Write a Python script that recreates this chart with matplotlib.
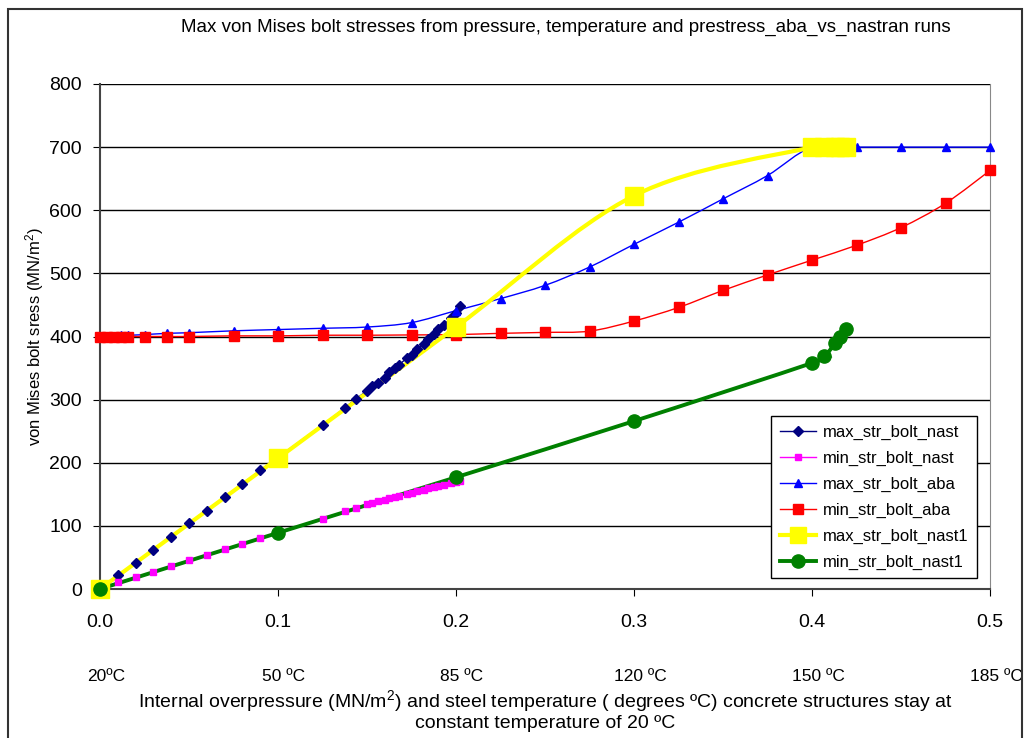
import numpy as np
import matplotlib
matplotlib.use("Agg")
import matplotlib.pyplot as plt
from matplotlib.path import Path
from matplotlib.patches import PathPatch, Rectangle
from matplotlib.lines import Line2D

plt.rcParams['font.family'] = ['Liberation Sans', 'DejaVu Sans']
plt.rcParams['mathtext.fontset'] = 'custom'
plt.rcParams['mathtext.rm'] = 'Liberation Sans'
plt.rcParams['mathtext.it'] = 'Liberation Sans:italic'

# nastran runs (pressure steps)
x_nast = [0.0, 0.01, 0.02, 0.03, 0.04, 0.05, 0.06, 0.07, 0.08, 0.09,
          0.125, 0.1375, 0.14375, 0.15, 0.153, 0.156, 0.16, 0.1625, 0.166, 0.168,
          0.1725, 0.175, 0.178, 0.182, 0.1845, 0.1875, 0.19, 0.193, 0.197, 0.2, 0.2025]
max_nast = [0, 22, 41, 62, 83, 104, 124, 145, 166, 188,
            260, 287, 301, 314, 322, 326, 335, 343, 350, 355,
            366, 371, 380, 388, 396, 404, 412, 418, 429, 438, 448]
min_nast = [0, 10.6, 18.5, 27.4, 36.5, 45.5, 53.4, 62.9, 70.8, 80.3,
            111, 123, 129, 134.5, 136.7, 138.8, 141.7, 143.5, 146, 147.5,
            150.7, 152.5, 154.6, 157.5, 159.3, 161.5, 163.3, 165.5, 168, 170, 171]

# abaqus runs
x_aba = [0.0, 0.004, 0.008, 0.012, 0.016, 0.025, 0.0375, 0.05, 0.075, 0.1,
         0.125, 0.15, 0.175, 0.2, 0.225, 0.25, 0.275, 0.3, 0.325, 0.35,
         0.375, 0.4, 0.425, 0.45, 0.475, 0.5]
max_aba = [401, 401, 401, 402, 402, 403, 405, 406, 409, 411,
           413, 415, 422, 441, 460, 481, 510, 546, 581, 618,
           655, 700, 700, 700, 700, 700]
min_aba = [400, 400, 400, 400, 400, 400, 400, 400, 401, 401,
           402, 402, 402.5, 403, 405, 406.5, 408.5, 424.5, 446, 473,
           497.5, 521, 544.5, 572.5, 611, 663]

# nastran runs 1
x_nast1 = [0.0, 0.1, 0.2, 0.3, 0.4, 0.407, 0.413, 0.416, 0.419]
max_nast1 = [0, 207, 415, 623, 700, 700, 700, 700, 700]
min_nast1 = [0, 89, 177, 266, 358, 369, 389, 400, 412]

xticks = [0.0, 0.1, 0.2, 0.3, 0.4, 0.5]
temp_labels = ['20ºC', '50 ºC', '85 ºC', '120 ºC', '150 ºC', '185 ºC']


def smooth(xs, ys):
    # excel style smoothed line (bezier through the points)
    p = np.column_stack([xs, ys]).astype(float)
    n = len(p)
    verts = [p[0]]
    codes = [Path.MOVETO]
    for i in range(n - 1):
        p0 = p[i - 1] if i > 0 else p[i]
        p3 = p[i + 2] if i + 2 < n else p[i + 1]
        verts += [p[i] + (p[i + 1] - p0) / 6, p[i + 1] - (p3 - p[i]) / 6, p[i + 1]]
        codes += [Path.CURVE4] * 3
    return Path(verts, codes)


series = [
    ('max_str_bolt_nast', x_nast, max_nast, '#000080', 'D', 5, 1.0),
    ('min_str_bolt_nast', x_nast, min_nast, '#FF00FF', 's', 4.5, 1.0),
    ('max_str_bolt_aba', x_aba, max_aba, '#0000FF', '^', 6, 1.0),
    ('min_str_bolt_aba', x_aba, min_aba, '#FF0000', 's', 7.5, 1.0),
    ('max_str_bolt_nast1', x_nast1, max_nast1, '#FFFF00', 's', 13.5, 3.0),
    ('min_str_bolt_nast1', x_nast1, min_nast1, '#008000', 'o', 9.5, 2.8),
]

fig = plt.figure(figsize=(10.29, 7.38), dpi=100)
fig.patches.append(Rectangle((8 / 1029, -0.02), 1014 / 1029, 1.02 - 9 / 738,
                             transform=fig.transFigure, fill=False,
                             edgecolor='#333333', lw=1.5))

ax = fig.add_axes([100 / 1029, 1 - 589 / 738, 890 / 1029, 505 / 738])
ax.set_xlim(0, 0.5)
ax.set_ylim(0, 800)

handles = []
for k, (name, xs, ys, col, mk, ms, lw) in enumerate(series):
    ax.add_patch(PathPatch(smooth(xs, ys), fill=False, edgecolor=col, lw=lw,
                           zorder=2 + k * 0.01, clip_on=False))
    ax.plot(xs, ys, ls='none', marker=mk, ms=ms, color=col, mec=col,
            zorder=3 + k * 0.01, clip_on=False)
    handles.append(Line2D([], [], color=col, lw=lw, marker=mk,
                          ms=min(ms, 11), mec=col, label=name))

ax.set_yticks(np.arange(0, 801, 100))
ax.set_xticks(xticks)
ax.set_xticklabels(['%.1f' % t for t in xticks])
ax.yaxis.grid(True, color='black', lw=1)
ax.set_axisbelow(True)
ax.tick_params(axis='x', direction='out', length=5, pad=13, labelsize=14)
ax.tick_params(axis='y', direction='out', length=5, pad=8, labelsize=14)
for s in ['left', 'bottom']:
    ax.spines[s].set_color('#444444')
    ax.spines[s].set_linewidth(1.5)
ax.spines['right'].set_color('#888888')
ax.spines['top'].set_visible(False)

for t, lbl in zip(xticks, temp_labels):
    ax.annotate(lbl, xy=(t, -0.174), xycoords=('data', 'axes fraction'),
                xytext=(6, 0), textcoords='offset pixels',
                ha='center', va='center', fontsize=12.5)

fig.text(545 / 1029, 1 - 701 / 738,
         'Internal overpressure (MN/m$^2$) and steel temperature ( degrees ºC) concrete structures stay at',
         ha='center', va='center', fontsize=14)
fig.text(545 / 1029, 1 - 724 / 738, 'constant temperature of 20 ºC',
         ha='center', va='center', fontsize=14)
fig.text(35 / 1029, 1 - 337 / 738, 'von Mises bolt sress (MN/m$^2$)',
         rotation=90, ha='center', va='center', fontsize=12)
fig.text(566 / 1029, 1 - 27 / 738,
         'Max von Mises bolt stresses from pressure, temperature and prestress_aba_vs_nastran runs',
         ha='center', va='center', fontsize=13.5)

leg = ax.legend(handles=handles, loc='lower right',
                bbox_to_anchor=((977 - 100) / 890, (589 - 578) / 505),
                borderaxespad=0, fancybox=False, framealpha=1,
                edgecolor='black', fontsize=12, handlelength=2.2,
                labelspacing=0.65, borderpad=0.5, handletextpad=0.4)
leg.get_frame().set_linewidth(1.0)
leg.set_zorder(10)

fig.savefig('out.png', dpi=100)
